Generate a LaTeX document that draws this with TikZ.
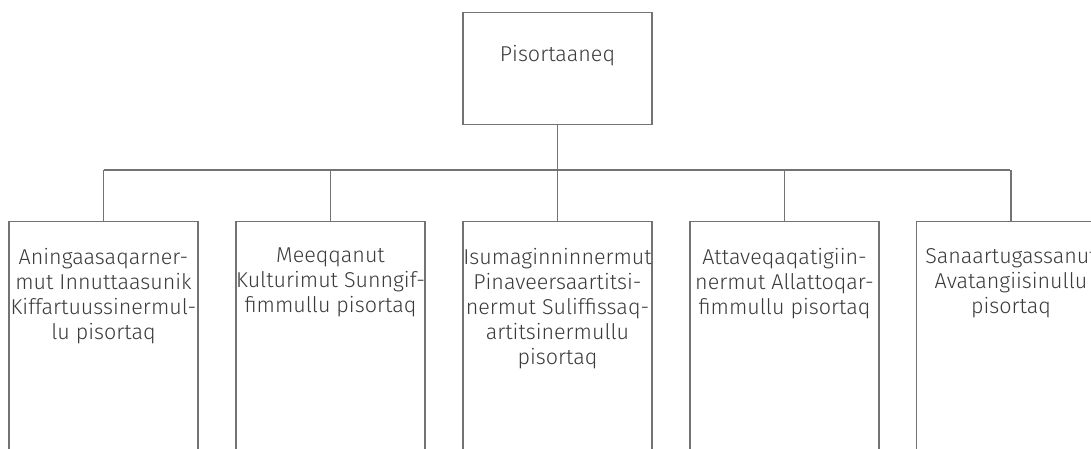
\documentclass[tikz,border=0pt]{standalone}
\usepackage{fontspec}
\setmainfont{Fira Sans}[UprightFont=* Light]
\begin{document}
\begin{tikzpicture}[x=1pt,y=-1pt,
  line/.style={draw=linegray,line width=1.1pt},
  box/.style={line, rectangle, minimum width=189pt, inner sep=0pt},
  lbl/.style={anchor=north, inner sep=0pt, align=center, text=textgray,
    font=\fontsize{21.5pt}{25pt}\selectfont}]
\definecolor{linegray}{HTML}{737373}
\definecolor{textgray}{HTML}{3A3A3A}
\useasboundingbox (0,0) rectangle (1091,448);
% top box
\node[box, minimum height=112pt, anchor=north] (top) at (557.5,12) {};
\node[lbl] (toptxt) at (557.5,45) {Pisortaaneq};
% bus
\coordinate (busL) at (103.5,170);
\coordinate (busR) at (1010,170);
\draw[line] (busL) -- (busR);
% children
\foreach \n/\x in {b1/103.5,b2/330.5,b3/557.5,b4/784.5,b5/1011}{
  \node[box, minimum height=260pt, anchor=north] (\n) at (\x,221) {};
  \coordinate (\n bus) at (\x,170);
  \draw[line] (\n bus) -- (\n.north);
}
\draw[line] (top.south) -- (b3.north);
\node[lbl] (t1) at (b1.north |- 0,248) {Aningaasaqarner-\\mut Innuttaasunik\\Kiffartuussinermul-\\lu pisortaq};
\node[lbl] (t2) at (b2.north |- 0,248) {Meeqqanut\\Kulturimut Sunngif-\\fimmullu pisortaq};
\node[lbl] (t3) at (b3.north |- 0,248) {Isumaginninnermut\\Pinaveersaartitsi-\\nermut Suliffissaq-\\artitsinermullu\\pisortaq};
\node[lbl] (t4) at (b4.north |- 0,248) {Attaveqaqatigiin-\\nermut Allattoqar-\\fimmullu pisortaq};
\node[lbl] (t5) at (b5.north |- 0,248) {Sanaartugassanut\\Avatangiisinullu\\pisortaq};
\end{tikzpicture}
\end{document}
